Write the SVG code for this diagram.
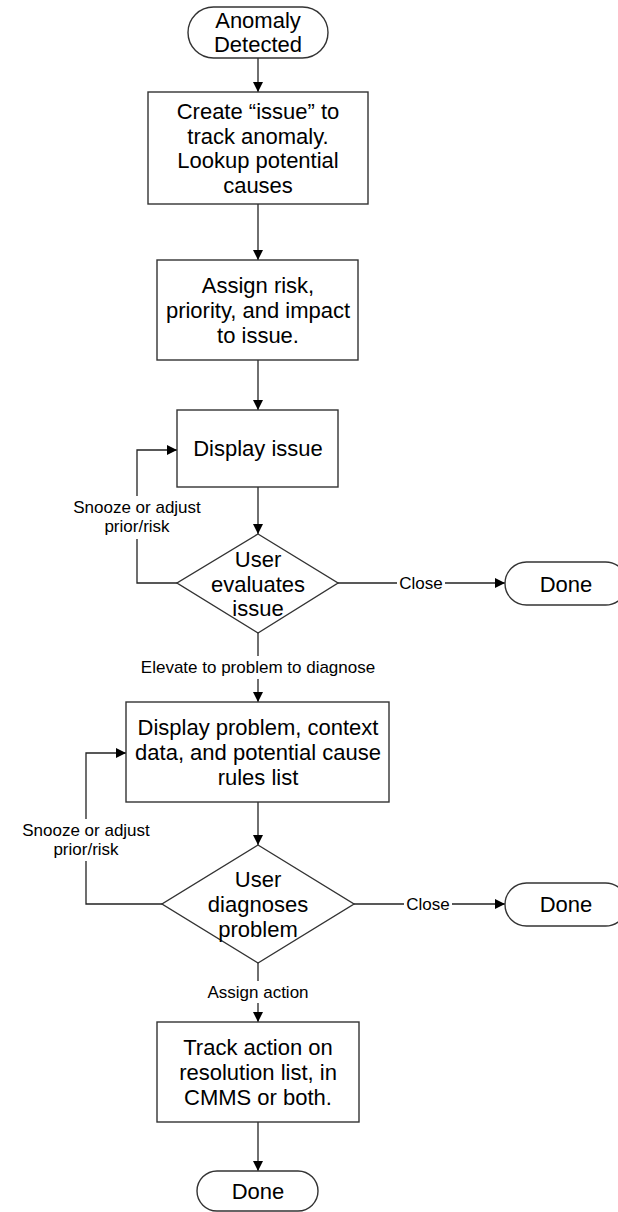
<svg xmlns="http://www.w3.org/2000/svg" width="618" height="1212" viewBox="0 0 618 1212">
<style>
.shape{fill:#ffffff;stroke:#333333;stroke-width:1.4}
.t{font-family:"Liberation Sans",Arial,sans-serif;font-size:22px;fill:#000;text-anchor:middle}
.lbl{font-family:"Liberation Sans",Arial,sans-serif;font-size:17px;fill:#000;text-anchor:middle}
.c{fill:none;stroke:#222;stroke-width:1.3}
</style>
<defs>
<marker id="ah" viewBox="0 0 10 10" refX="10" refY="5" markerWidth="10" markerHeight="10" markerUnits="userSpaceOnUse" orient="auto">
<path d="M0,0 L10,5 L0,10 Z" fill="#000"/>
</marker>
</defs>
<rect width="618" height="1212" fill="#ffffff"/>
<g id="connectors">
<path class="c" d="M258,58 V92" marker-end="url(#ah)"/>
<path class="c" d="M258,204 V260" marker-end="url(#ah)"/>
<path class="c" d="M258,360 V410" marker-end="url(#ah)"/>
<path class="c" d="M258,487 V534" marker-end="url(#ah)"/>
<path class="c" d="M338,583 H397"/>
<path class="c" d="M445,583 H505" marker-end="url(#ah)"/>
<path class="c" d="M177,583 H137 V539"/>
<path class="c" d="M137,496 V450 H177" marker-end="url(#ah)"/>
<path class="c" d="M258,633 V656"/>
<path class="c" d="M258,679 V702" marker-end="url(#ah)"/>
<path class="c" d="M258,802 V845" marker-end="url(#ah)"/>
<path class="c" d="M354,904 H404"/>
<path class="c" d="M452,904 H505" marker-end="url(#ah)"/>
<path class="c" d="M162,904 H86 V861"/>
<path class="c" d="M86,819 V753 H126" marker-end="url(#ah)"/>
<path class="c" d="M258,963 V981"/>
<path class="c" d="M258,1003 V1022" marker-end="url(#ah)"/>
<path class="c" d="M258,1122 V1171" marker-end="url(#ah)"/>
<text class="lbl" x="421" y="589">Close</text>
<text class="lbl" x="137" y="513">Snooze or adjust</text>
<text class="lbl" x="137" y="532">prior/risk</text>
<text class="lbl" x="258" y="673">Elevate to problem to diagnose</text>
<text class="lbl" x="428" y="910">Close</text>
<text class="lbl" x="86" y="836">Snooze or adjust</text>
<text class="lbl" x="86" y="855">prior/risk</text>
<text class="lbl" x="258" y="998">Assign action</text>
</g>
<g id="start">
<rect class="shape" x="188" y="7" width="140" height="51" rx="25.5"/>
<text class="t" x="258" y="28">Anomaly</text>
<text class="t" x="258" y="52">Detected</text>
</g>
<g id="create-issue">
<rect class="shape" x="148" y="92" width="220" height="112"/>
<text class="t" x="258" y="119">Create “issue” to</text>
<text class="t" x="258" y="144">track anomaly.</text>
<text class="t" x="258" y="168">Lookup potential</text>
<text class="t" x="258" y="193">causes</text>
</g>
<g id="assign-risk">
<rect class="shape" x="157" y="260" width="201" height="100"/>
<text class="t" x="258" y="293">Assign risk,</text>
<text class="t" x="258" y="318">priority, and impact</text>
<text class="t" x="258" y="343">to issue.</text>
</g>
<g id="display-issue">
<rect class="shape" x="177" y="410" width="161" height="77"/>
<text class="t" x="258" y="456">Display issue</text>
</g>
<g id="evaluate">
<polygon class="shape" points="258,534 338,583 258,633 177,583"/>
<text class="t" x="258" y="567">User</text>
<text class="t" x="258" y="592">evaluates</text>
<text class="t" x="258" y="616">issue</text>
</g>
<g id="done1">
<rect class="shape" x="505" y="562" width="122" height="43" rx="21.5"/>
<text class="t" x="566" y="592">Done</text>
</g>
<g id="display-problem">
<rect class="shape" x="126" y="702" width="263" height="100"/>
<text class="t" x="258" y="735">Display problem, context</text>
<text class="t" x="258" y="760">data, and potential cause</text>
<text class="t" x="258" y="785">rules list</text>
</g>
<g id="diagnose">
<polygon class="shape" points="258,845 354,904 258,963 162,904"/>
<text class="t" x="258" y="887">User</text>
<text class="t" x="258" y="912">diagnoses</text>
<text class="t" x="258" y="937">problem</text>
</g>
<g id="done2">
<rect class="shape" x="505" y="883" width="122" height="43" rx="21.5"/>
<text class="t" x="566" y="912">Done</text>
</g>
<g id="track-action">
<rect class="shape" x="157" y="1022" width="202" height="100"/>
<text class="t" x="258" y="1055">Track action on</text>
<text class="t" x="258" y="1080">resolution list, in</text>
<text class="t" x="258" y="1105">CMMS or both.</text>
</g>
<g id="done3">
<rect class="shape" x="197" y="1171" width="121" height="40" rx="20"/>
<text class="t" x="258" y="1199">Done</text>
</g>
</svg>
